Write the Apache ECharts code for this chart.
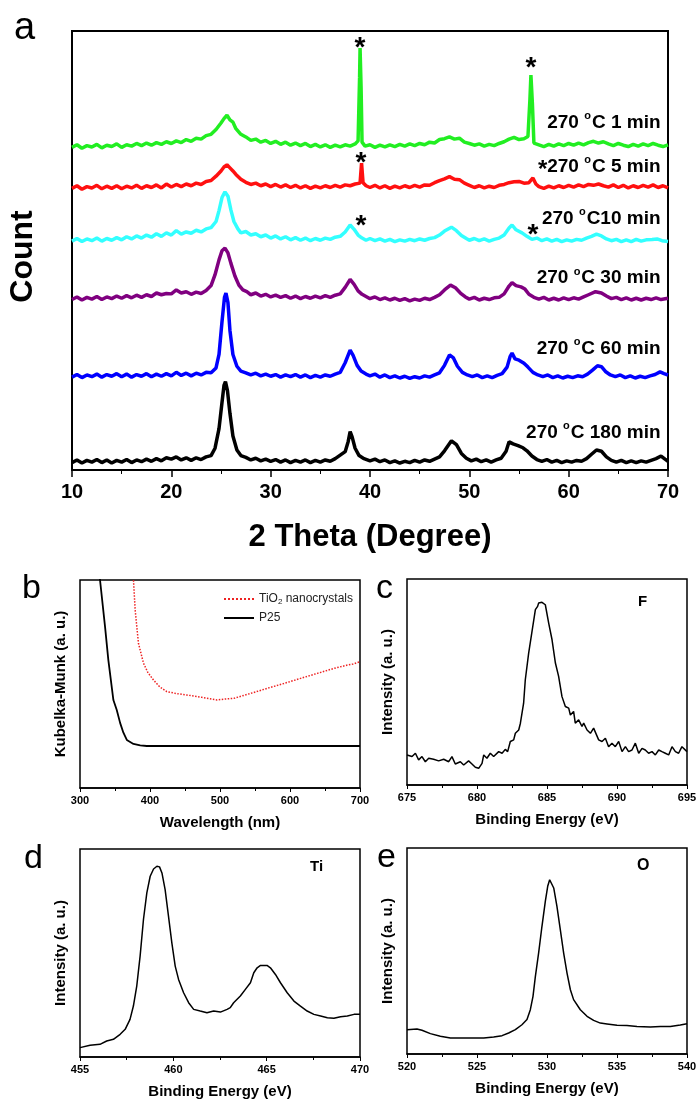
<!DOCTYPE html>
<html>
<head>
<meta charset="utf-8">
<script src="https://cdn.jsdelivr.net/npm/echarts@6/dist/echarts.min.js"></script>
<style>
  html, body { margin: 0; padding: 0; background: #fff; }
  #chart { width: 698px; height: 1099px; }
</style>
</head>
<body>
<div id="chart"></div>
<script>
const FONT = "'Liberation Sans', Arial, sans-serif";

// ---- panel a: XRD, offset traces (x = 2 theta, y = arbitrary count units) ----
const xrd1min = [[10,74.0],[10.5,74.6],[11,73.8],[11.5,74.4],[12,74.1],[12.5,74.7],[13,73.9],[13.5,74.5],[14,74.2],[14.5,74.8],[15,74.0],[15.5,74.6],[16,74.3],[16.5,74.9],[17,74.4],[17.5,75.0],[18,74.5],[18.5,75.1],[19,74.7],[19.5,75.3],[20,74.9],[20.5,75.5],[21,75.1],[21.5,75.8],[22,75.4],[22.5,76.1],[23,75.9],[23.5,76.7],[24,77.0],[24.5,78.1],[25,79.6],[25.3,80.6],[25.6,81.4],[25.9,80.3],[26.2,79.8],[26.5,78.3],[27,77.0],[27.5,76.4],[28,75.6],[28.5,75.9],[29,75.2],[29.5,75.6],[30,74.9],[30.5,75.4],[31,74.7],[31.5,75.2],[32,74.5],[32.5,75.0],[33,74.4],[33.5,74.9],[34,74.2],[34.5,74.7],[35,74.1],[35.5,74.6],[36,74.0],[36.5,74.5],[37,74.1],[37.5,74.6],[38,74.3],[38.5,74.8],[38.8,75.5],[38.95,90],[39.0,96.8],[39.1,88],[39.2,75.2],[39.5,74.3],[40,74.6],[40.5,74.0],[41,74.5],[41.5,74.1],[42,74.6],[42.5,74.2],[43,74.7],[43.5,74.3],[44,74.8],[44.5,74.4],[45,74.9],[45.5,74.6],[46,75.2],[46.5,75.0],[47,75.8],[47.5,76.0],[48,76.4],[48.5,75.9],[49,76.1],[49.5,75.2],[50,74.9],[50.5,74.5],[51,74.8],[51.5,74.3],[52,74.7],[52.5,74.4],[53,74.9],[53.5,75.3],[54,75.9],[54.5,76.3],[55,75.8],[55.5,76.0],[55.9,76.5],[56.1,85],[56.2,90.6],[56.35,84],[56.5,75.0],[57,74.6],[57.5,74.2],[58,74.7],[58.5,74.3],[59,74.8],[59.5,74.4],[60,74.9],[60.5,74.5],[61,75.0],[61.5,74.6],[62,75.1],[62.5,75.4],[63,75.0],[63.5,75.3],[64,74.8],[64.5,74.4],[65,74.9],[65.5,74.5],[66,74.2],[66.5,74.7],[67,74.3],[67.5,74.8],[68,74.4],[68.5,74.9],[69,74.5],[69.5,74.2],[70,74.6]];
const xrd5min = [[10,64.6],[10.5,65.2],[11,64.4],[11.5,65.0],[12,64.7],[12.5,65.3],[13,64.5],[13.5,65.1],[14,64.6],[14.5,65.2],[15,64.5],[15.5,65.1],[16,64.7],[16.5,65.3],[17,64.6],[17.5,65.2],[18,64.8],[18.5,65.4],[19,64.7],[19.5,65.6],[20,64.9],[20.5,65.5],[21,65.0],[21.5,65.6],[22,65.2],[22.5,65.8],[23,65.5],[23.5,66.2],[24,66.4],[24.5,67.4],[25,68.6],[25.3,69.5],[25.6,70.0],[25.9,69.3],[26.2,68.6],[26.5,67.8],[27,66.7],[27.5,66.0],[28,65.5],[28.5,65.8],[29,65.2],[29.5,65.6],[30,65.0],[30.5,65.5],[31,64.9],[31.5,65.4],[32,64.8],[32.5,65.3],[33,64.7],[33.5,65.2],[34,64.6],[34.5,65.1],[35,64.7],[35.5,65.2],[36,64.8],[36.5,65.3],[37,64.9],[37.5,65.4],[38,65.2],[38.5,65.6],[39.0,65.8],[39.15,70.4],[39.3,65.9],[39.6,65.2],[40,64.8],[40.5,65.3],[41,64.7],[41.5,65.2],[42,64.6],[42.5,65.1],[43,64.7],[43.5,65.2],[44,64.8],[44.5,65.3],[45,64.9],[45.5,65.4],[46,65.3],[46.5,65.9],[47,66.4],[47.5,66.8],[48,67.3],[48.5,66.7],[49,66.6],[49.5,65.8],[50,65.3],[50.5,64.8],[51,65.2],[51.5,64.7],[52,65.1],[52.5,64.8],[53,65.3],[53.5,65.5],[54,65.9],[54.5,66.1],[55,66.2],[55.5,65.8],[56,65.9],[56.4,67.0],[56.7,65.6],[57,65.0],[57.5,64.6],[58,65.1],[58.5,64.7],[59,65.2],[59.5,64.8],[60,65.3],[60.5,64.9],[61,65.4],[61.5,65.0],[62,65.5],[62.5,65.3],[63,65.6],[63.5,65.2],[64,64.9],[64.5,65.4],[65,64.8],[65.5,65.3],[66,64.7],[66.5,65.2],[67,64.8],[67.5,65.3],[68,64.9],[68.5,65.4],[69,64.8],[69.5,65.2],[70,64.7]];
const xrd10min = [[10,52.5],[10.5,53.1],[11,52.4],[11.5,53.0],[12,52.6],[12.5,53.2],[13,52.5],[13.5,53.1],[14,52.7],[14.5,53.3],[15,52.8],[15.5,53.5],[16,53.0],[16.5,53.7],[17,53.2],[17.5,53.9],[18,53.4],[18.5,54.2],[19,53.6],[19.5,54.4],[20,53.9],[20.5,54.9],[21,54.1],[21.5,54.6],[22,54.3],[22.5,55.0],[23,54.6],[23.5,55.3],[24,55.6],[24.5,57.0],[24.8,59.5],[25.1,62.5],[25.4,63.8],[25.7,62.8],[26.0,59.6],[26.3,57.0],[26.7,55.3],[27,54.4],[27.5,54.7],[28,53.9],[28.5,54.2],[29,53.5],[29.5,53.9],[30,53.2],[30.5,53.7],[31,53.0],[31.5,53.5],[32,52.8],[32.5,53.3],[33,52.7],[33.5,53.2],[34,52.6],[34.5,53.1],[35,52.7],[35.5,53.2],[36,52.9],[36.5,53.4],[37,53.6],[37.5,54.6],[38,56.2],[38.4,55.2],[38.8,53.9],[39.2,53.2],[39.6,52.7],[40,53.1],[40.5,52.6],[41,53.0],[41.5,52.5],[42,52.9],[42.5,52.4],[43,52.8],[43.5,52.5],[44,52.9],[44.5,52.6],[45,53.0],[45.5,52.7],[46,53.1],[46.5,53.3],[47,53.9],[47.5,54.8],[48.2,55.7],[48.7,54.9],[49.2,53.8],[49.7,53.1],[50,52.7],[50.5,53.1],[51,52.6],[51.5,53.0],[52,52.5],[52.5,52.9],[53,53.2],[53.5,53.9],[54,55.5],[54.3,56.2],[54.7,55.1],[55.3,54.4],[55.8,53.6],[56.3,52.9],[56.8,53.2],[57.3,52.6],[57.8,53.0],[58.3,52.5],[58.8,52.9],[59.3,52.4],[59.8,52.8],[60.3,52.5],[60.8,52.9],[61.3,52.7],[61.8,53.2],[62.3,53.6],[62.8,54.1],[63.3,53.7],[63.8,53.0],[64.3,52.6],[64.8,52.9],[65.3,52.4],[65.8,52.8],[66.3,52.4],[66.8,52.9],[67.3,52.5],[67.8,52.8],[68.4,52.9],[68.9,53.0],[69.4,52.6],[70,52.4]];
const xrd30min = [[10,39.1],[10.5,39.7],[11,39.0],[11.5,39.6],[12,39.2],[12.5,39.8],[13,39.1],[13.5,39.7],[14,39.3],[14.5,39.9],[15,39.4],[15.5,40.0],[16,39.5],[16.5,40.1],[17,39.6],[17.5,40.2],[18,39.8],[18.5,40.6],[19,40.2],[19.5,40.5],[20,40.4],[20.5,41.3],[21,40.6],[21.5,40.9],[22,40.3],[22.5,40.8],[23,40.5],[23.5,41.2],[24,42.3],[24.4,44.8],[24.8,48.2],[25.1,50.3],[25.4,50.9],[25.7,49.8],[26.0,47.4],[26.4,44.5],[26.8,42.4],[27.2,41.3],[27.6,40.9],[28,40.2],[28.5,40.6],[29,39.9],[29.5,40.3],[30,39.7],[30.5,40.1],[31,39.6],[31.5,40.0],[32,39.4],[32.5,39.9],[33,39.3],[33.5,39.8],[34,39.4],[34.5,39.9],[35,39.5],[35.5,40.0],[36,39.6],[36.5,40.1],[37,40.4],[37.5,41.9],[38,43.7],[38.4,42.6],[38.8,41.1],[39.2,40.3],[39.6,39.8],[40,39.3],[40.5,39.7],[41,39.1],[41.5,39.5],[42,39.0],[42.5,39.4],[43,38.9],[43.5,39.3],[44,38.8],[44.5,39.2],[45,38.9],[45.5,39.4],[46,39.1],[46.5,39.6],[47,40.2],[47.5,41.3],[48.1,42.4],[48.6,41.8],[49.1,40.6],[49.6,39.7],[50,39.2],[50.5,39.6],[51,39.0],[51.5,39.4],[52,39.1],[52.5,39.5],[53,39.6],[53.5,40.4],[54,42.2],[54.3,43.0],[54.7,42.3],[55.2,42.0],[55.6,41.5],[56.0,40.3],[56.5,39.6],[57,39.2],[57.5,39.6],[58,39.0],[58.5,39.4],[59,39.0],[59.5,39.5],[60,39.1],[60.5,39.5],[61,39.2],[61.5,39.7],[62,40.2],[62.7,40.9],[63.3,40.6],[63.8,39.9],[64.3,39.3],[64.8,39.6],[65.3,39.1],[65.8,39.5],[66.3,39.0],[66.8,39.4],[67.3,39.0],[67.8,39.4],[68.3,39.1],[68.8,39.5],[69.3,39.1],[70,39.4]];
const xrd60min = [[10,21.3],[10.5,21.9],[11,21.2],[11.5,21.8],[12,21.4],[12.5,22.0],[13,21.3],[13.5,21.9],[14,21.5],[14.5,22.1],[15,21.4],[15.5,22.0],[16,21.3],[16.5,21.9],[17,21.5],[17.5,22.1],[18,21.4],[18.5,22.0],[19,21.5],[19.5,22.1],[20,21.6],[20.5,22.4],[21,21.7],[21.5,22.2],[22,21.6],[22.5,22.2],[23,21.8],[23.5,22.4],[24,22.3],[24.5,23.4],[24.8,26.5],[25.1,34.0],[25.35,39.6],[25.5,40.6],[25.7,38.4],[25.9,32.0],[26.2,26.5],[26.6,23.8],[27,22.7],[27.5,22.3],[28,21.8],[28.5,22.2],[29,21.6],[29.5,22.0],[30,21.5],[30.5,21.9],[31,21.3],[31.5,21.8],[32,21.4],[32.5,21.9],[33,21.3],[33.5,21.8],[34,21.2],[34.5,21.7],[35,21.3],[35.5,21.8],[36,21.5],[36.5,22.0],[37,22.4],[37.5,24.6],[38,27.5],[38.3,26.3],[38.7,24.0],[39.1,22.7],[39.6,22.0],[40,21.6],[40.5,22.0],[41,21.3],[41.5,21.8],[42,21.2],[42.5,21.6],[43,21.1],[43.5,21.5],[44,21.0],[44.5,21.4],[45,21.1],[45.5,21.6],[46,21.3],[46.5,21.8],[47,22.3],[47.5,24.0],[48,26.4],[48.4,25.7],[48.8,23.8],[49.3,22.4],[49.8,21.8],[50.3,21.4],[50.8,21.8],[51.3,21.2],[51.8,21.6],[52.3,21.2],[52.8,21.7],[53.3,22.1],[53.8,23.6],[54.1,26.0],[54.3,26.8],[54.6,25.5],[55.0,25.2],[55.5,24.5],[55.9,23.6],[56.4,22.4],[56.9,21.8],[57.4,21.4],[57.9,21.8],[58.4,21.2],[58.9,21.6],[59.4,21.1],[59.9,21.5],[60.4,21.2],[60.9,21.6],[61.4,21.4],[61.9,22.0],[62.4,22.9],[62.9,23.9],[63.3,23.7],[63.7,22.6],[64.2,21.8],[64.7,21.4],[65.2,21.8],[65.7,21.2],[66.2,21.6],[66.7,21.1],[67.2,21.5],[67.7,21.2],[68.2,21.6],[68.7,21.9],[69.2,22.5],[69.6,22.1],[70,21.8]];
const xrd180min = [[10,1.7],[10.5,2.3],[11,1.6],[11.5,2.2],[12,1.8],[12.5,2.4],[13,1.7],[13.5,2.3],[14,1.6],[14.5,2.2],[15,1.8],[15.5,2.4],[16,1.7],[16.5,2.3],[17,1.9],[17.5,2.5],[18,2.0],[18.5,2.6],[19,2.1],[19.5,2.8],[20,2.5],[20.5,3.0],[21,2.3],[21.5,2.8],[22,2.2],[22.5,2.8],[23,2.4],[23.5,3.0],[24,3.3],[24.4,5.0],[24.8,9.5],[25.1,15.5],[25.3,19.4],[25.45,20.3],[25.65,18.2],[25.9,13.0],[26.2,7.8],[26.6,4.6],[27,3.3],[27.5,2.9],[28,2.3],[28.5,2.7],[29,2.1],[29.5,2.5],[30,2.0],[30.5,2.4],[31,1.8],[31.5,2.3],[32,1.7],[32.5,2.2],[33,1.8],[33.5,2.3],[34,1.7],[34.5,2.2],[35,1.8],[35.5,2.3],[36,2.0],[36.5,2.6],[37,3.4],[37.5,4.2],[37.8,6.5],[38,8.8],[38.2,7.6],[38.5,5.0],[38.9,3.3],[39.4,2.6],[40,2.1],[40.5,2.5],[41,1.9],[41.5,2.3],[42,1.7],[42.5,2.1],[43,1.6],[43.5,2.0],[44,1.7],[44.5,2.2],[45,1.8],[45.5,2.3],[46,2.0],[46.5,2.5],[47,3.0],[47.5,4.4],[48.2,6.7],[48.7,5.8],[49.2,3.8],[49.7,2.7],[50.2,2.1],[50.7,2.5],[51.2,1.9],[51.7,2.3],[52.2,1.8],[52.7,2.3],[53.2,2.7],[53.7,4.3],[54.0,6.5],[54.4,6.0],[54.9,5.6],[55.4,5.1],[55.8,4.4],[56.3,3.2],[56.8,2.4],[57.3,2.0],[57.8,2.4],[58.3,1.8],[58.8,2.2],[59.3,1.7],[59.8,2.1],[60.3,1.8],[60.8,2.2],[61.3,2.0],[61.8,2.6],[62.3,3.6],[62.8,4.6],[63.3,4.3],[63.8,3.0],[64.3,2.2],[64.8,1.8],[65.3,2.2],[65.8,1.7],[66.3,2.1],[66.8,1.7],[67.3,2.1],[67.8,1.8],[68.3,2.2],[68.8,2.6],[69.3,3.2],[69.7,2.5],[70,2.0]];

const xrdColors = ['#22ee22', '#ff1010', '#33ffff', '#800080', '#0000ff', '#000000'];
const xrdTimes = ['1 min', '5 min', '10 min', '30 min', '60 min', '180 min'];
// label anchor (right end) and vertical centre, in data units
const xrdLabelPos = [[69.3, 79.7], [69.3, 69.6], [69.3, 57.7], [69.3, 44.0], [69.3, 27.8], [69.3, 8.6]];
// asterisks marking impurity peaks: [series index, 2theta, y]
const starMarks = [[0, 39.0, 96.8], [0, 56.2, 92.2], [1, 39.1, 70.3], [2, 39.1, 55.9], [2, 56.4, 53.9]];

// ---- panel b: Kubelka-Munk ----
const kmTiO2 = [[376,110],[376.4,100],[378.8,85.6],[383.5,69.6],[390.7,60.0],[397,55.5],[405,51.9],[414,48.6],[424.1,46.3],[438,45.4],[452.7,44.7],[474,43.6],[495.7,42.3],[507,42.8],[519.6,43.1],[543,45.4],[567.3,47.9],[591,50.2],[615,52.7],[639,55.1],[662.8,57.5],[682,59.1],[690,59.6],[700,60.7]];
const kmP25 = [[326,110],[328.6,100],[335.8,77.5],[340.5,61.5],[347.7,42.3],[352.5,37.5],[357.3,31.3],[362,26.6],[366.9,23.1],[376.4,21.2],[386,20.5],[395.5,20.2],[450,20.2],[550,20.2],[700,20.2]];

// ---- panel c: XPS F 1s ----
const xpsF = [[675,14.6],[675.36,13.8],[675.6,15.4],[675.83,12.2],[676.07,13.8],[676.31,11.3],[676.55,13.0],[676.9,12.5],[677.26,11.7],[677.62,12.5],[677.98,11.3],[678.21,13.8],[678.45,10.2],[678.81,11.3],[679.05,9.7],[679.4,11.7],[679.64,10.2],[679.88,8.6],[680.12,8.1],[680.36,10.5],[680.48,14.6],[680.71,13.0],[680.95,15.4],[681.19,13.8],[681.55,16.2],[681.79,15.4],[682.02,17.3],[682.19,16.2],[682.38,21.1],[682.62,21.9],[682.74,25.1],[682.98,26.7],[683.1,30.0],[683.33,39.7],[683.45,51.1],[683.69,64.0],[683.93,74.6],[684.17,85.1],[684.33,86.7],[684.4,88.3],[684.52,87.5],[684.64,88.7],[684.88,87.5],[685.12,78.6],[685.36,70.5],[685.6,59.2],[685.83,52.7],[686.07,42.9],[686.31,38.1],[686.55,37.3],[686.67,34.0],[686.9,35.7],[687.02,30.0],[687.26,31.6],[687.5,28.4],[687.62,30.0],[687.86,26.7],[688.1,25.1],[688.33,27.6],[688.69,21.9],[688.93,21.1],[689.17,22.7],[689.4,18.6],[689.64,20.3],[689.88,18.6],[690.12,21.1],[690.36,16.2],[690.6,18.6],[690.83,16.2],[691.07,17.0],[691.31,20.3],[691.55,15.4],[691.79,17.8],[692.02,17.0],[692.26,15.4],[692.5,16.2],[692.74,14.6],[692.98,17.0],[693.21,16.2],[693.45,15.4],[693.69,14.6],[693.93,18.6],[694.17,16.2],[694.4,15.4],[694.64,18.6],[695,16.2]];

// ---- panel d: XPS Ti 2p ----
const xpsTi = [[455,4.5],[455.54,5.6],[456.07,6.1],[456.43,7.7],[456.79,8.5],[457.15,10.9],[457.42,13.3],[457.68,18.1],[457.86,24.5],[458.04,34.1],[458.22,48.5],[458.4,66.1],[458.58,78.9],[458.76,86.9],[458.94,90.4],[459.12,91.7],[459.26,91.4],[459.39,88.5],[459.56,80.5],[459.74,67.7],[459.92,54.9],[460.1,43.7],[460.28,37.3],[460.55,30.9],[460.82,26.1],[461.09,22.9],[461.44,22.1],[461.8,21.3],[462.16,22.1],[462.52,21.6],[462.88,22.9],[463.05,23.7],[463.23,26.1],[463.59,29.3],[463.86,32.5],[464.13,35.7],[464.31,40.5],[464.49,42.9],[464.67,44.0],[465.02,44.0],[465.2,42.9],[465.47,39.7],[465.74,35.7],[466.1,30.9],[466.46,26.9],[466.81,24.5],[467.17,22.1],[467.53,20.5],[467.89,19.7],[468.25,18.9],[468.6,18.6],[468.96,19.4],[469.32,19.7],[469.68,20.5],[470,20.5]];

// ---- panel e: XPS O 1s ----
const xpsO = [[520,11.8],[520.71,12.1],[521.07,11.5],[521.67,9.9],[522.38,8.6],[523.1,7.8],[523.81,7.8],[524.52,7.8],[525.48,7.8],[526.19,8.3],[526.79,8.9],[527.26,10.2],[527.74,11.8],[528.21,14.2],[528.57,16.7],[528.81,21.5],[529.0,28.0],[529.17,37.7],[529.4,49.0],[529.64,62.0],[529.88,74.1],[530.05,81.4],[530.19,84.6],[530.31,84.3],[530.48,80.6],[530.71,71.7],[530.95,60.4],[531.19,49.0],[531.43,39.3],[531.67,31.2],[531.9,26.4],[532.38,21.5],[532.86,18.3],[533.33,16.3],[533.81,15.0],[534.29,14.6],[535.0,13.9],[535.71,13.8],[536.43,13.4],[537.38,13.1],[538.1,13.4],[538.81,13.4],[539.52,14.1],[540,14.7]];

// ---------------------------------------------------------------------------
const grids = [
  { left: 72, top: 31, width: 596, height: 439, show: true, borderColor: '#000', borderWidth: 2, outerBoundsMode: 'none' },
  { left: 80, top: 580, width: 280, height: 208, show: true, borderColor: '#000', borderWidth: 1.5, outerBoundsMode: 'none' },
  { left: 407, top: 579, width: 280, height: 206, show: true, borderColor: '#000', borderWidth: 1.5, outerBoundsMode: 'none' },
  { left: 80, top: 849, width: 280, height: 208, show: true, borderColor: '#000', borderWidth: 1.5, outerBoundsMode: 'none' },
  { left: 407, top: 848, width: 280, height: 206, show: true, borderColor: '#000', borderWidth: 1.5, outerBoundsMode: 'none' }
];

function xAxis(gridIndex, min, max, interval, name, big) {
  return {
    type: 'value', gridIndex, min, max, interval,
    name, nameLocation: 'middle', nameGap: big ? 52 : 27,
    nameTextStyle: { fontFamily: FONT, fontWeight: 'bold', fontSize: big ? 31 : 15, color: '#000' },
    axisLine: { show: true, lineStyle: { color: '#000', width: big ? 2 : 1.5 } },
    axisTick: { show: true, length: big ? 7 : 4, lineStyle: { color: '#000', width: big ? 1.5 : 1 } },
    minorTick: { show: true, splitNumber: 2, length: big ? 4 : 3, lineStyle: { color: '#000', width: 1 } },
    axisLabel: { fontFamily: FONT, fontWeight: 'bold', fontSize: big ? 20 : 11, color: '#000', margin: big ? 12 : 7 },
    splitLine: { show: false }
  };
}

function yAxis(gridIndex, name, big, max) {
  return {
    type: 'value', gridIndex, min: 0, max: max || 100,
    name, nameLocation: 'middle', nameGap: big ? 33 : 12,
    nameTextStyle: big
      ? { fontFamily: FONT, fontWeight: 'bold', fontSize: 32, color: '#000', padding: [0, 12, 0, 0] }
      : { fontFamily: FONT, fontWeight: 'bold', fontSize: 15, color: '#000' },
    axisLine: { show: false }, axisTick: { show: false }, axisLabel: { show: false }, splitLine: { show: false }
  };
}

const richLbl = {
  t: { fontFamily: FONT, fontWeight: 'bold', fontSize: 19, lineHeight: 20, color: '#000' },
  s: { fontFamily: FONT, fontWeight: 'bold', fontSize: 11, lineHeight: 11, color: '#000', verticalAlign: 'bottom', padding: [0, 1, 11, 0] },
  a: { fontFamily: FONT, fontWeight: 'bold', fontSize: 24, lineHeight: 20, color: '#000', padding: [8, 0, 0, 0] }
};

function labelText(i) {
  const t = xrdTimes[i];
  const tail = t === '10 min' ? 'C' + t : 'C ' + t;
  return (i === 1 ? '{a|*}' : '') + '{t|270 }{s|o}{t|' + tail + '}';
}

const xrdData = [xrd1min, xrd5min, xrd10min, xrd30min, xrd60min, xrd180min];
const series = xrdData.map((d, i) => {
  const marks = [{
    coord: xrdLabelPos[i],
    label: { show: true, position: 'left', distance: 0, formatter: labelText(i), rich: richLbl }
  }];
  starMarks.filter(s => s[0] === i).forEach(s => marks.push({
    coord: [s[1], s[2]],
    label: { show: true, position: 'inside', formatter: '*', fontFamily: FONT, fontWeight: 'bold', fontSize: 28, color: '#000' }
  }));
  return {
    type: 'line', name: '270 °C ' + xrdTimes[i], xAxisIndex: 0, yAxisIndex: 0,
    data: d, showSymbol: false, symbol: 'none', z: 10 - i,
    lineStyle: { color: xrdColors[i], width: 3.5 },
    itemStyle: { color: xrdColors[i] },
    markPoint: { symbol: 'circle', symbolSize: 1, itemStyle: { color: 'rgba(0,0,0,0)' }, data: marks, animation: false }
  };
});

series.push(
  { type: 'line', name: 'TiO2 nanocrystals', xAxisIndex: 1, yAxisIndex: 1, data: kmTiO2, symbol: 'none',
    lineStyle: { color: '#ee2222', width: 1.5, type: 'dotted' }, itemStyle: { color: '#ee2222' } },
  { type: 'line', name: 'P25', xAxisIndex: 1, yAxisIndex: 1, data: kmP25, symbol: 'none',
    lineStyle: { color: '#000', width: 1.8 }, itemStyle: { color: '#000' } },
  { type: 'line', name: 'F 1s', xAxisIndex: 2, yAxisIndex: 2, data: xpsF, symbol: 'none',
    lineStyle: { color: '#000', width: 1.5 } },
  { type: 'line', name: 'Ti 2p', xAxisIndex: 3, yAxisIndex: 3, data: xpsTi, symbol: 'none',
    lineStyle: { color: '#000', width: 1.5 } },
  { type: 'line', name: 'O 1s', xAxisIndex: 4, yAxisIndex: 4, data: xpsO, symbol: 'none',
    lineStyle: { color: '#000', width: 1.5 } }
);

function panelText(text, x, y, size, weight) {
  return { type: 'text', left: x, top: y, z: 100,
    style: { text, fontFamily: FONT, fontSize: size, fontWeight: weight || 'normal', fill: '#000' } };
}

const option = {
  animation: false,
  backgroundColor: '#fff',
  grid: grids,
  xAxis: [
    xAxis(0, 10, 70, 10, '2 Theta (Degree)', true),
    xAxis(1, 300, 700, 100, 'Wavelength (nm)', false),
    xAxis(2, 675, 695, 5, 'Binding Energy (eV)', false),
    xAxis(3, 455, 470, 5, 'Binding Energy (eV)', false),
    xAxis(4, 520, 540, 5, 'Binding Energy (eV)', false)
  ],
  yAxis: [
    yAxis(0, 'Count', true, 100.7),
    yAxis(1, 'Kubelka-Munk (a. u.)', false),
    yAxis(2, 'Intensity (a. u.)', false),
    yAxis(3, 'Intensity (a. u.)', false),
    yAxis(4, 'Intensity (a. u.)', false)
  ],
  legend: {
    left: 218, top: 588, orient: 'vertical', itemWidth: 30, itemHeight: 14, itemGap: 6,
    data: ['TiO2 nanocrystals', 'P25'],
    itemStyle: { opacity: 0 },
    formatter: name => name === 'TiO2 nanocrystals' ? '{n|TiO}{b|2}{n| nanocrystals}' : '{n|' + name + '}',
    textStyle: {
      rich: {
        n: { fontFamily: FONT, fontSize: 12, color: '#222' },
        b: { fontFamily: FONT, fontSize: 8, color: '#222', verticalAlign: 'bottom', padding: [6, 0, 0, 0] }
      }
    }
  },
  graphic: [
    panelText('a', 14, 10, 38),
    panelText('b', 22, 572, 34),
    panelText('c', 376, 572, 34),
    panelText('d', 24, 842, 34),
    panelText('e', 377, 841, 34),
    panelText('F', 638, 594, 15, 'bold'),
    panelText('Ti', 310, 859, 15, 'bold'),
    panelText('O', 637, 858, 16, 'bold')
  ],
  series
};

const chart = echarts.init(document.getElementById('chart'), null, { renderer: 'canvas' });
chart.setOption(option);
</script>
</body>
</html>
